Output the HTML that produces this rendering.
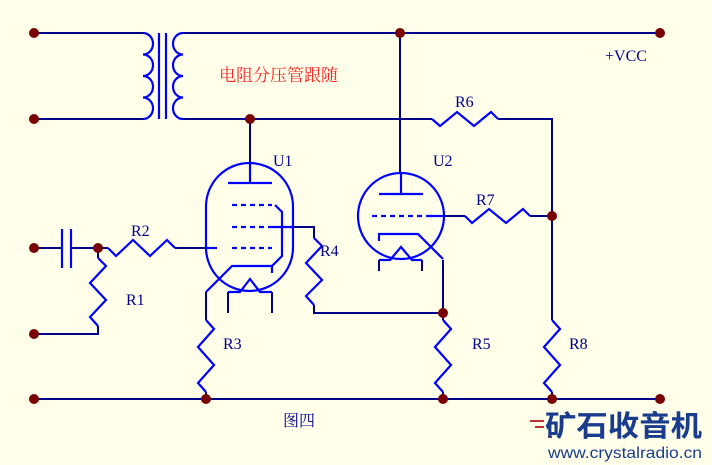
<!DOCTYPE html>
<html><head><meta charset="utf-8"><style>
html,body{margin:0;padding:0;background:#FFFFEA;}
svg{display:block;}
text{font-family:"Liberation Serif","Noto Serif CJK SC",serif;}
</style></head><body>
<svg width="712" height="465" viewBox="0 0 712 465" xmlns="http://www.w3.org/2000/svg">
<rect width="712" height="465" fill="#FFFFEA"/>
<g fill="none" stroke="#00008B" stroke-width="2">
<polyline points="34,33 143,33"/>
<polyline points="34,119 143,119"/>
<polyline points="183,33 660,33"/>
<polyline points="183,119 432,119"/>
<polyline points="498,119 552,119 552,320"/>
<polyline points="552,392 552,399"/>
<polyline points="34,399 660,399"/>
<polyline points="250,119 250,163"/>
<polyline points="400,33 400,172"/>
<polyline points="34,248 62,248"/>
<polyline points="71,248 108,248"/>
<polyline points="175,248 217,248"/>
<polyline points="98,248 98,258"/>
<polyline points="98,326 98,334 34,334"/>
<polyline points="206,292 206,320"/>
<polyline points="206,392 206,399"/>
<polyline points="272,227 314,227 314,238"/>
<polyline points="314,305 314,313 443,313"/>
<polyline points="443,260 443,320"/>
<polyline points="443,392 443,399"/>
<polyline points="444,216 465,216"/>
<polyline points="530,216 552,216"/>
<polyline points="228,292 228,313"/><polyline points="272,292 272,313"/>
<polyline points="379,260 379,271"/><polyline points="422,260 422,271"/>
</g>
<g fill="none" stroke="#0000FF" stroke-width="2.2">
<path d="M143,33 a10,10.75 0 0 1 0,21.5 a10,10.75 0 0 1 0,21.5 a10,10.75 0 0 1 0,21.5 a10,10.75 0 0 1 0,21.5"/>
<path d="M183,33 a10,10.75 0 0 0 0,21.5 a10,10.75 0 0 0 0,21.5 a10,10.75 0 0 0 0,21.5 a10,10.75 0 0 0 0,21.5"/>
<line x1="159" y1="33" x2="159" y2="119"/><line x1="166" y1="33" x2="166" y2="119"/>
<line x1="62" y1="229" x2="62" y2="268"/><line x1="71" y1="229" x2="71" y2="268"/>
<polyline points="108,248 116,256 133,240 150,256 167,240 175,248"/>
<polyline points="432,119 440,126 457,112 474,126 491,112 498,119"/>
<polyline points="465,216 472,223 489,209 506,223 523,209 530,216"/>
<polyline points="98,258 106,266 90,283 106,300 90,317 98,326"/>
<polyline points="206,320 214,329 198,347 214,365 198,383 206,392"/>
<polyline points="314,238 322,246 306,263 322,280 306,296 314,305"/>
<polyline points="443,320 451,329 435,347 451,365 435,383 443,392"/>
<polyline points="552,320 560,329 544,347 560,365 544,383 552,392"/>
<rect x="206" y="163" width="87" height="128" rx="43.5" ry="43.5"/>
<line x1="250" y1="163" x2="250" y2="183"/>
<line x1="228" y1="183" x2="272" y2="183"/>
<line x1="232" y1="205" x2="272" y2="205" stroke-dasharray="5,4"/>
<line x1="232" y1="227" x2="272" y2="227" stroke-dasharray="5,4"/>
<line x1="232" y1="248" x2="272" y2="248" stroke-dasharray="5,4"/>
<line x1="206" y1="248" x2="217" y2="248"/>
<line x1="272" y1="227" x2="293" y2="227"/>
<polyline points="275,205 282,212 282,256 272,266 272,273"/>
<polyline points="272,266 232,266 206,292"/>
<polyline points="228,292 240,292 250,279 260,292 272,292"/>
<circle cx="401" cy="216" r="43"/>
<line x1="401" y1="172" x2="401" y2="194"/>
<line x1="379" y1="194" x2="423" y2="194"/>
<line x1="372" y1="216" x2="430" y2="216" stroke-dasharray="5,4"/>
<line x1="430" y1="216" x2="444" y2="216"/>
<polyline points="379,241 379,234 418,234 443,259"/>
<polyline points="379,260 390,260 401,247 412,260 422,260"/>
</g>
<g fill="#7A0000">
<circle cx="34" cy="33" r="5"/><circle cx="34" cy="119" r="5"/>
<circle cx="250" cy="119" r="5"/><circle cx="400" cy="33" r="5"/><circle cx="660" cy="33" r="5"/>
<circle cx="34" cy="248" r="5"/><circle cx="98" cy="248" r="5"/><circle cx="34" cy="334" r="5"/>
<circle cx="552" cy="216" r="5"/><circle cx="443" cy="313" r="5"/>
<circle cx="34" cy="399" r="5"/><circle cx="206" cy="399" r="5"/><circle cx="443" cy="399" r="5"/>
<circle cx="552" cy="399" r="5"/><circle cx="660" cy="399" r="5"/>
</g>
<g fill="#00008B" font-size="16">
<text x="131" y="236">R2</text>
<text x="126" y="305">R1</text>
<text x="223" y="349">R3</text>
<text x="320" y="256">R4</text>
<text x="472" y="349">R5</text>
<text x="569" y="349">R8</text>
<text x="455" y="107">R6</text>
<text x="476" y="205">R7</text>
<text x="273" y="166">U1</text>
<text x="433" y="166">U2</text>
<text x="605" y="61">+VCC</text>
<text x="283" y="426">图四</text>
</g>
<text x="219" y="81" fill="#FF2020" font-size="17">电阻分压管跟随</text>
<g stroke="#C03030" stroke-width="2">
<line x1="530" y1="421" x2="544" y2="421"/>
<line x1="535" y1="427" x2="544" y2="427"/>
<line x1="548" y1="437" x2="552" y2="437"/>
</g>
<text x="545" y="436" textLength="157" lengthAdjust="spacingAndGlyphs" style="font-family:'Noto Sans CJK SC',sans-serif;font-size:29px;font-weight:bold;fill:#1A3C8C">矿石收音机</text>
<text x="548" y="458" textLength="154" lengthAdjust="spacingAndGlyphs" style="font-family:'Liberation Sans',sans-serif;font-size:16px;fill:#1A3C8C">www.crystalradio.cn</text>
</svg>
</body></html>
